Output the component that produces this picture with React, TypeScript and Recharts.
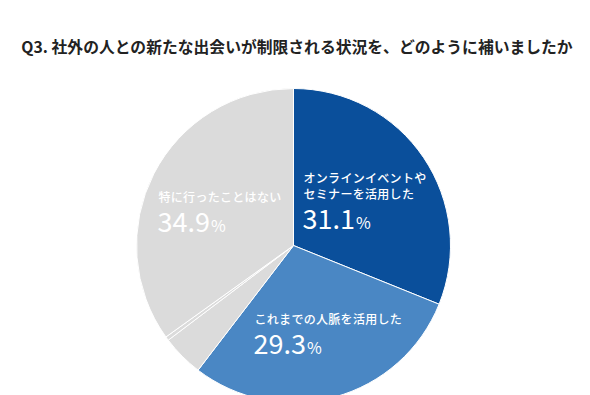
import React from "react";
import { PieChart, Pie, Cell } from "recharts";

const title = "Q3. 社外の人との新たな出会いが制限される状況を、どのように補いましたか";
const categories = [
  "オンラインイベントやセミナーを活用した",
  "これまでの人脈を活用した",
  "その他A",
  "その他B",
  "特に行ったことはない",
];
const values = [31.1, 29.3, 4.3, 0.4, 34.9];
const colors = ["#0a4f9b", "#4a87c4", "#dbdbdb", "#dbdbdb", "#dbdbdb"];
const labelLines: string[][] = [
  ["オンラインイベントや", "セミナーを活用した"],
  ["これまでの人脈を活用した"],
  [],
  [],
  ["特に行ったことはない"],
];
const showLabel = [true, true, false, false, true];

const data = categories.map((name, i) => ({ name, value: values[i] }));

const labelLayout: Record<number, { dx: number; dy: number }> = {
  0: { dx: 10, dy: -63 },
  1: { dx: -39, dy: 78 },
  4: { dx: -135, dy: -44 },
};

const font = "'Noto Sans CJK JP', 'Noto Sans', sans-serif";

const renderLabel = (props: any) => {
  const { cx, cy, index, value } = props;
  if (!showLabel[index]) return null;
  const lay = labelLayout[index];
  const x = cx + lay.dx;
  const lines = labelLines[index];
  const y0 = cy + lay.dy;
  const lineStep = 16;
  const pctY = y0 + (lines.length - 1) * lineStep + 30;
  return (
    <g key={`lbl-${index}`}>
      {lines.map((t, i) => (
        <text
          key={i}
          x={x}
          y={y0 + i * lineStep}
          fill="#ffffff"
          fontSize={12}
          fontWeight={500}
          letterSpacing={0.3}
          fontFamily={font}
          textAnchor="start"
        >
          {t}
        </text>
      ))}
      <text
        x={x - 1}
        y={pctY}
        fill="#ffffff"
        fontFamily={font}
        textAnchor="start"
      >
        <tspan fontSize={27} fontWeight={400}>{value.toFixed(1)}</tspan>
        <tspan fontSize={16} fontWeight={400} dx={1}>%</tspan>
      </text>
    </g>
  );
};

export default function App() {
  return (
    <div style={{ position: "fixed", left: 0, top: 0, width: 590, height: 395, background: "#fff" }}>
      <div
        style={{
          position: "absolute",
          left: 0,
          top: 35,
          width: 594,
          textAlign: "center",
          fontFamily: font,
          fontWeight: 700,
          fontSize: 15.8,
          color: "#222222",
          whiteSpace: "nowrap",
        }}
      >
        {title}
      </div>
      <PieChart
        width={590}
        height={395}
        margin={{ top: 0, right: 0, bottom: 0, left: 0 }}
        style={{ position: "absolute", left: 0, top: 0 }}
      >
        <Pie
          data={data}
          dataKey="value"
          cx={293.5}
          cy={245.5}
          outerRadius={157}
          innerRadius={0}
          startAngle={90}
          endAngle={-270}
          stroke="#ffffff"
          strokeWidth={1}
          label={renderLabel}
          labelLine={false}
          isAnimationActive={false}
        >
          {data.map((d, i) => (
            <Cell key={d.name} fill={colors[i]} />
          ))}
        </Pie>
      </PieChart>
    </div>
  );
}
